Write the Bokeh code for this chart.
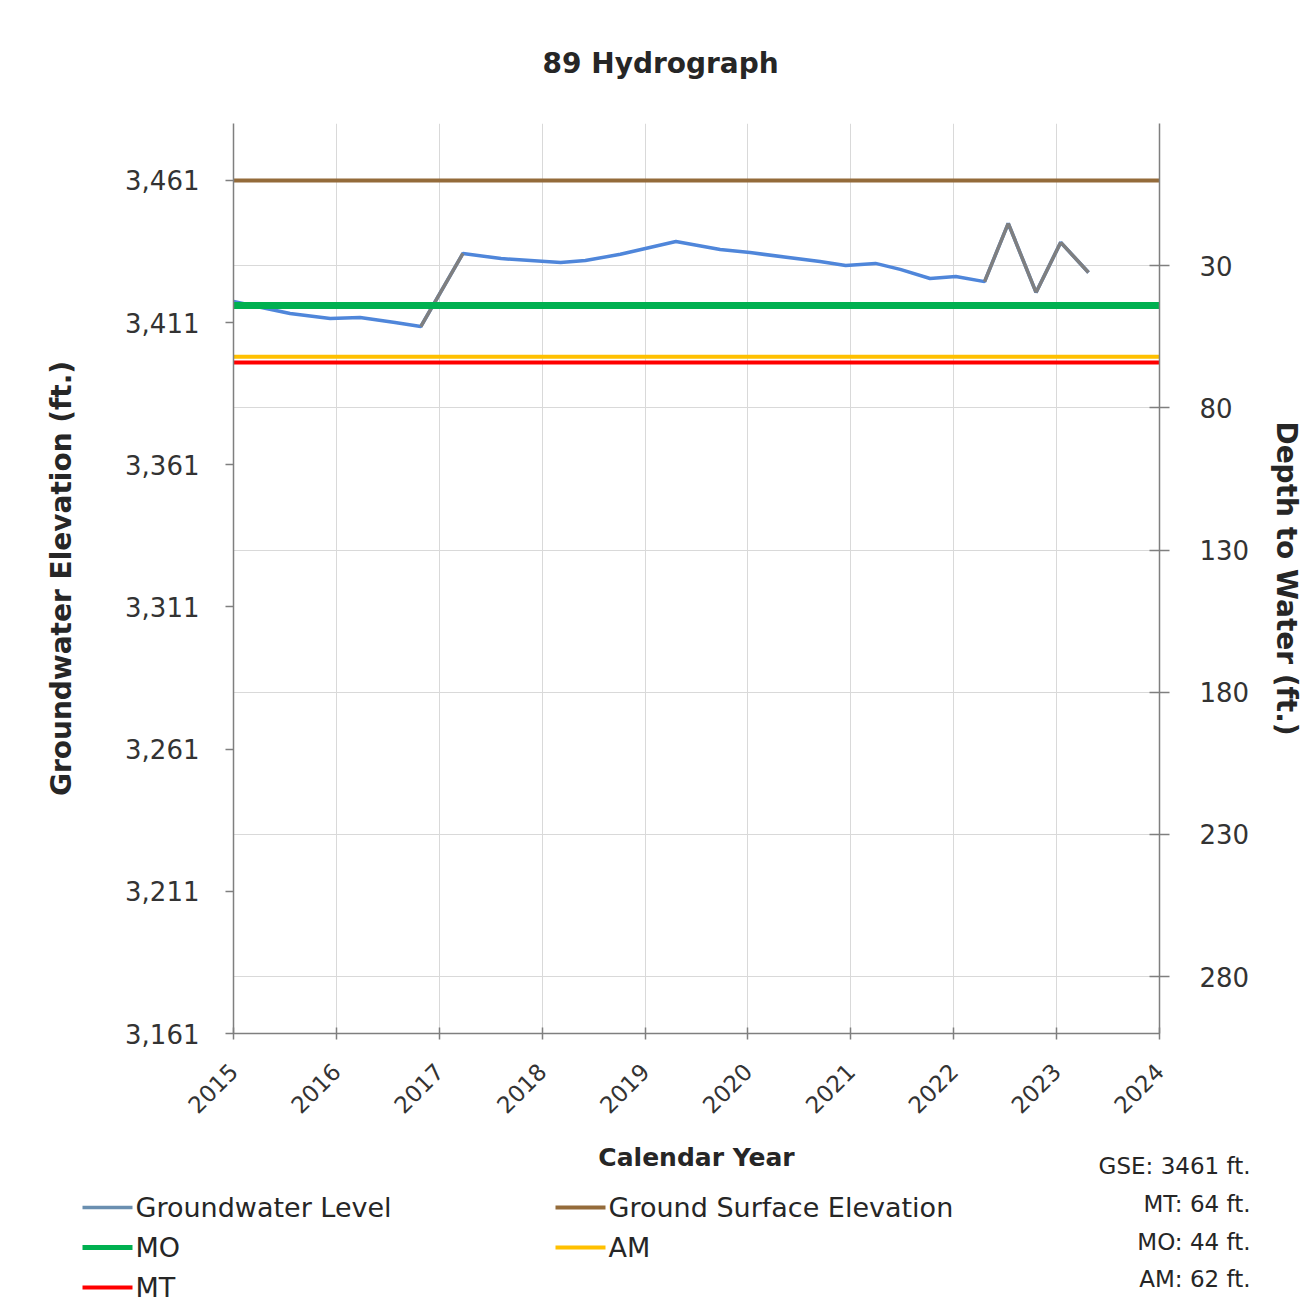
from math import pi
from bokeh.plotting import figure
from bokeh.layouts import column, row
from bokeh.models import (Range1d, LinearAxis, FixedTicker, NumeralTickFormatter)
from bokeh.core.properties import value
from bokeh.embed import file_html
from bokeh.resources import INLINE

# ---------------- data ----------------
chart_title = "89 Hydrograph"
x_title = "Calendar Year"
gse = 3461          # ground surface elevation (ft)
mt_depth = 64       # minimum threshold depth (ft)
mo_depth = 44       # measurable objective depth (ft)
am_depth = 62       # action mark depth (ft)

year_ticks = [2015, 2016, 2017, 2018, 2019, 2020, 2021, 2022, 2023, 2024]
elev_ticks = [3161, 3211, 3261, 3311, 3361, 3411, 3461]
depth_ticks = [30, 80, 130, 180, 230, 280]
elev_top = 3481

gw_year = [2015.00, 2015.55, 2015.94, 2016.23, 2016.57, 2016.82, 2017.23, 2017.60,
           2018.18, 2018.42, 2018.76, 2019.30, 2019.73, 2020.02, 2020.70, 2020.95,
           2021.24, 2021.48, 2021.77, 2022.02, 2022.30, 2022.53, 2022.80, 2023.04,
           2023.31]
gw_elev = [3418.4, 3414.2, 3412.4, 3412.8, 3411.0, 3409.6, 3435.3, 3433.5,
           3432.1, 3432.8, 3435.0, 3439.5, 3436.7, 3435.6, 3432.5, 3431.1,
           3431.8, 3429.7, 3426.5, 3427.2, 3425.4, 3445.9, 3421.6, 3439.2,
           3428.6]
# segments (index pairs) drawn in grey
gray_segments = [(5, 6), (20, 21), (21, 22), (22, 23), (23, 24)]

series_names = ["Groundwater Level", "Ground Surface Elevation", "MO", "AM", "MT"]

# ---------------- styles ----------------
FONT = "DejaVu Sans"
TXT = "#262626"
COL = {"Groundwater Level": "#4f86da", "Ground Surface Elevation": "#946b3a",
       "MO": "#00b050", "AM": "#ffc000", "MT": "#ff0000"}
LEG_COL = dict(COL, **{"Groundwater Level": "#6a8fb0"})
LW = {"Groundwater Level": 3.5, "Ground Surface Elevation": 4, "MO": 7, "AM": 4, "MT": 4}
GRAY = "#7f7f7f"

W = 1296
MAIN_H = 1140
LEG_H = 163

# ---------------- main figure ----------------
p = figure(width=W, height=MAIN_H, output_backend="svg", toolbar_location=None,
           x_range=Range1d(year_ticks[0], year_ticks[-1]),
           y_range=Range1d(elev_ticks[0], elev_top),
           min_border_left=233, min_border_right=W - 233 - 926, min_border_top=123,
           min_border_bottom=MAIN_H - 123 - 910)
p.frame_width = 926
p.frame_height = 910
p.outline_line_color = None
p.background_fill_color = "white"
p.border_fill_color = "white"

p.title.text = chart_title
p.title.align = "left"
p.title.offset = 309
p.title.standoff = 87
p.title.text_font = FONT
p.title.text_font_size = "28px"
p.title.text_font_style = "bold"
p.title.text_color = TXT

p.extra_y_ranges = {"depth": Range1d(start=gse - elev_ticks[0], end=gse - elev_top)}

xa = p.xaxis[0]
xa.ticker = FixedTicker(ticks=year_ticks)
xa.major_label_orientation = pi / 4

ya = p.yaxis[0]
ya.ticker = FixedTicker(ticks=elev_ticks)
ya.formatter = NumeralTickFormatter(format="0,0")
ya.axis_label = "Groundwater Elevation (ft.)"

ra = LinearAxis(y_range_name="depth", ticker=FixedTicker(ticks=depth_ticks),
                axis_label="Depth to Water (ft.)")
p.add_layout(ra, "right")

for ax in [xa, ya, ra]:
    ax.axis_line_color = "#7f7f7f"
    ax.axis_line_width = 1.5
    ax.major_tick_line_color = "#7f7f7f"
    ax.major_tick_line_width = 1.5
    ax.minor_tick_line_color = None
    ax.major_label_text_font = FONT
    ax.major_label_text_color = "#333333"
    ax.axis_label_text_font = FONT
    ax.axis_label_text_font_style = "bold"
    ax.axis_label_text_color = TXT

xa.major_label_text_font_size = "23px"
xa.major_tick_in = 6
xa.major_tick_out = 6
xa.major_label_standoff = 28

ya.major_label_text_font_size = "26px"
ya.major_tick_in = 0
ya.major_tick_out = 8
ya.major_label_standoff = 26
ya.axis_label_text_font_size = "28px"
ya.axis_label_standoff = 44

ra.major_label_text_font_size = "26px"
ra.major_tick_in = 10
ra.major_tick_out = 10
ra.major_label_standoff = 30
ra.axis_label_text_font_size = "28px"
ra.axis_label_standoff = 18

p.xgrid.ticker = FixedTicker(ticks=year_ticks)
p.xgrid.grid_line_color = "#d9d9d9"
p.ygrid.ticker = FixedTicker(ticks=[gse - d for d in depth_ticks])
p.ygrid.grid_line_color = "#d9d9d9"

span_x = [year_ticks[0], year_ticks[-1]]
level = {"Ground Surface Elevation": gse, "MO": gse - mo_depth,
         "AM": gse - am_depth, "MT": gse - mt_depth}

p.line(gw_year, gw_elev, line_color=COL["Groundwater Level"], line_width=LW["Groundwater Level"])
gx = [[gw_year[a], gw_year[b]] for a, b in gray_segments]
gy = [[gw_elev[a], gw_elev[b]] for a, b in gray_segments]
p.multi_line(gx, gy, line_color=GRAY, line_width=LW["Groundwater Level"])
for name in ["Ground Surface Elevation", "MO", "AM", "MT"]:
    p.line(span_x, [level[name]] * 2, line_color=COL[name], line_width=LW[name])

# ---------------- legend / notes strip (pixel coordinates) ----------------
q = figure(width=W, height=LEG_H, output_backend="svg", toolbar_location=None,
           x_range=Range1d(0, W), y_range=Range1d(LEG_H, 0),
           x_axis_type=None, y_axis_type=None, min_border=0,
           min_border_left=0, min_border_right=0, min_border_top=0, min_border_bottom=0)
q.outline_line_color = None
q.background_fill_color = "white"
q.border_fill_color = "white"

# legend layout: (series, swatch x, row y)
leg_order = ["Groundwater Level", "MO", "MT", "Ground Surface Elevation", "AM"]
leg_x = [82, 82, 82, 555, 555]
leg_y = [67, 107, 147, 67, 107]
q.multi_line([[x, x + 50] for x in leg_x], [[y, y] for y in leg_y],
             line_color=[LEG_COL[n] for n in leg_order],
             line_width=[min(LW[n], 5) for n in leg_order])
q.text(x=[x + 53 for x in leg_x], y=leg_y, text=leg_order,
       text_font=value(FONT), text_font_size=value("27px"),
       text_align="left", text_baseline="middle", text_color=TXT)

q.text(x=[696], y=[17], text=[x_title], text_font=value(FONT),
       text_font_size=value("25px"), text_font_style="bold",
       text_align="center", text_baseline="middle", text_color=TXT)

notes = [f"GSE: {gse} ft.", f"MT: {mt_depth} ft.", f"MO: {mo_depth} ft.", f"AM: {am_depth} ft."]
q.text(x=[1250] * len(notes), y=[25, 63, 101, 138], text=notes,
       text_font=value(FONT), text_font_size=value("23px"),
       text_align="right", text_baseline="middle", text_color=TXT)

layout = column(p, row(q), spacing=0)
open("out.html", "w").write(file_html(layout, INLINE))
